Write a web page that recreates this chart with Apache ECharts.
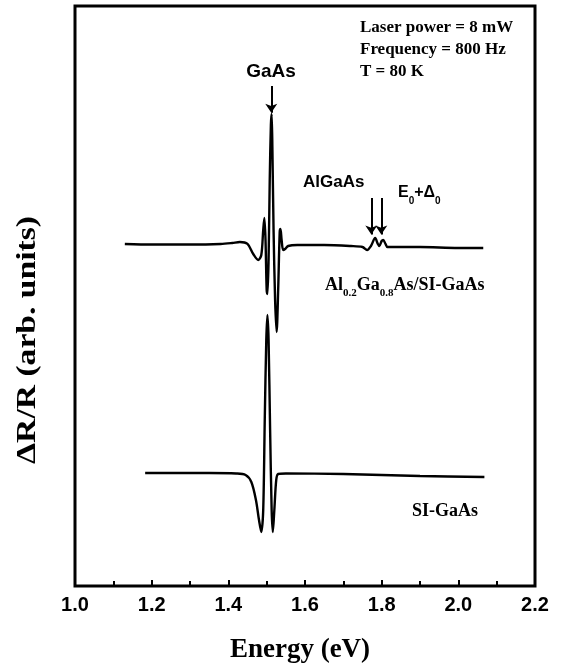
<!DOCTYPE html>
<html>
<head>
<meta charset="utf-8">
<script src="https://cdn.jsdelivr.net/npm/echarts@6/dist/echarts.min.js"></script>
<style>
  html, body { margin: 0; padding: 0; background: #fff; }
  #main { width: 567px; height: 668px; }
</style>
</head>
<body>
<div id="main"></div>
<script>
// Al0.2Ga0.8As/SI-GaAs spectrum (upper trace), arbitrary units
const energyTop = [1.13, 1.20, 1.30, 1.38, 1.41, 1.43, 1.45, 1.465, 1.478, 1.486, 1.491, 1.494, 1.497, 1.500, 1.502,
  1.505, 1.508, 1.511, 1.513, 1.515, 1.518, 1.522, 1.526, 1.530, 1.534, 1.536, 1.539, 1.543, 1.548, 1.556, 1.58,
  1.65, 1.72, 1.75, 1.762, 1.772, 1.783, 1.790, 1.794, 1.800, 1.804, 1.810, 1.815, 1.83, 1.90, 2.00, 2.065];
const signalTop = [58.97, 58.88, 58.88, 58.97, 59.14, 59.31, 58.97, 57.24, 56.21, 57.07, 61.38, 63.45, 59.66, 51.03, 50.34,
  56.21, 70.0, 79.5, 81.4, 75.17, 61.38, 49.31, 43.79, 51.03, 61.03, 61.55, 59.66, 57.93, 58.10, 58.62, 58.79,
  58.79, 58.62, 58.45, 57.93, 58.62, 60.0, 58.97, 58.62, 59.48, 59.66, 58.97, 58.45, 58.45, 58.45, 58.28, 58.28];

// SI-GaAs spectrum (lower trace)
const energyBottom = [1.183, 1.25, 1.35, 1.42, 1.445, 1.46, 1.472, 1.480, 1.486, 1.491, 1.495, 1.499, 1.502, 1.505,
  1.509, 1.513, 1.516, 1.520, 1.525, 1.530, 1.55, 1.70, 1.90, 2.068];
const signalBottom = [19.48, 19.48, 19.48, 19.40, 19.14, 17.93, 14.83, 11.38, 9.31, 13.10, 28.62, 42.41, 46.72, 42.41,
  26.90, 13.10, 9.31, 13.10, 18.28, 19.31, 19.40, 19.31, 18.97, 18.79];

// arrow annotations: [energy, from, to]
const arrowGaAs = [[1.512, 86.2, 81.6]];
const arrowsAlGaAs = [[1.773, 66.9, 60.6], [1.799, 66.9, 60.6]];

const xTickLabels = ['1.0', '1.2', '1.4', '1.6', '1.8', '2.0', '2.2'];

function pairs(xs, ys) {
  return xs.map((x, i) => [x, ys[i]]);
}

function arrowLines(list) {
  return list.map(a => [{ coord: [a[0], a[1]] }, { coord: [a[0], a[2]] }]);
}

// rich styles for text with subscripts
function subRich(family, size, subSize) {
  return {
    m: { fontFamily: family, fontWeight: 'bold', fontSize: size, lineHeight: size },
    s: { fontFamily: family, fontWeight: 'bold', fontSize: subSize, lineHeight: subSize, padding: [16, 0, 0, 0] }
  };
}

var myChart = echarts.init(document.getElementById('main'));
myChart.setOption({
  animation: false,
  grid: {
    left: 75, right: 32, top: 6, bottom: 82,
    show: true, borderColor: '#000', borderWidth: 3
  },
  xAxis: {
    type: 'value',
    min: 1.0, max: 2.2, interval: 0.2,
    axisLine: { show: false },
    axisTick: { show: true, inside: true, length: 6, lineStyle: { color: '#000', width: 2 } },
    minorTick: { show: true, splitNumber: 2, length: 5, lineStyle: { color: '#000', width: 2 } },
    splitLine: { show: false },
    axisLabel: {
      color: '#000', fontSize: 20, fontWeight: 'bold',
      fontFamily: 'Liberation Sans, Arial, sans-serif', margin: 9,
      formatter: v => xTickLabels[Math.round((v - 1.0) / 0.2)]
    }
  },
  yAxis: {
    type: 'value', min: 0, max: 100, show: false
  },
  series: [
    {
      type: 'line',
      data: pairs(energyTop, signalTop),
      showSymbol: false,
      smooth: 0.3,
      z: 3,
      lineStyle: { color: '#000', width: 2.4 },
      markLine: {
        silent: true,
        symbol: ['none', 'arrow'],
        symbolSize: 9,
        label: { show: false },
        emphasis: { disabled: true },
        lineStyle: { color: '#000', width: 2, type: 'solid', opacity: 1 },
        itemStyle: { color: '#000' },
        data: arrowLines(arrowGaAs.concat(arrowsAlGaAs))
      }
    },
    {
      type: 'line',
      data: pairs(energyBottom, signalBottom),
      showSymbol: false,
      smooth: 0.3,
      lineStyle: { color: '#000', width: 2.4 }
    }
  ],
  graphic: [
    {
      type: 'text', left: 360, top: 17,
      style: {
        text: 'Laser power = 8 mW\nFrequency = 800 Hz\nT = 80 K',
        font: 'bold 17px "Liberation Serif", "Times New Roman", serif',
        lineHeight: 22, fill: '#000'
      }
    },
    {
      type: 'text', x: 271, y: 72,
      style: {
        text: 'GaAs', align: 'center', verticalAlign: 'middle',
        font: 'bold 19px "Liberation Sans", Arial, sans-serif', fill: '#000'
      }
    },
    {
      type: 'text', x: 303, y: 182,
      style: {
        text: 'AlGaAs', verticalAlign: 'middle',
        font: 'bold 17px "Liberation Sans", Arial, sans-serif', fill: '#000'
      }
    },
    {
      type: 'text', x: 398, y: 185,
      style: {
        text: '{m|E}{s|0}{m|+Δ}{s|0}',
        fill: '#000',
        rich: subRich('Liberation Sans, Arial, sans-serif', 16, 10)
      }
    },
    {
      type: 'text', x: 325, y: 276,
      style: {
        text: '{m|Al}{s|0.2}{m|Ga}{s|0.8}{m|As/SI-GaAs}',
        fill: '#000',
        rich: subRich('Liberation Serif, Times New Roman, serif', 18, 11)
      }
    },
    {
      type: 'text', x: 412, y: 511,
      style: {
        text: 'SI-GaAs', verticalAlign: 'middle',
        font: 'bold 18px "Liberation Serif", "Times New Roman", serif', fill: '#000'
      }
    },
    {
      type: 'text', x: 300, y: 650,
      style: {
        text: 'Energy (eV)', align: 'center', verticalAlign: 'middle',
        font: 'bold 27px "Liberation Serif", "Times New Roman", serif', fill: '#000'
      }
    },
    {
      type: 'text', x: 28, y: 340, rotation: Math.PI / 2, scaleX: 1.2,
      style: {
        text: 'ΔR/R (arb. units)', align: 'center', verticalAlign: 'middle',
        font: 'bold 28px "Liberation Serif", "Times New Roman", serif', fill: '#000'
      }
    }
  ]
});
</script>
</body>
</html>
